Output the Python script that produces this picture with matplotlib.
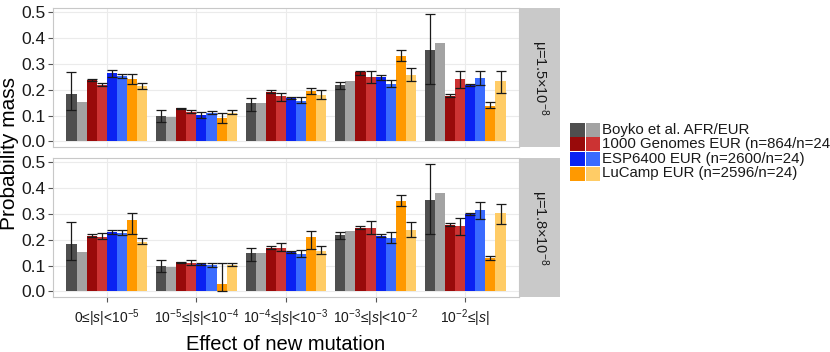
import numpy as np
import matplotlib.pyplot as plt
from matplotlib.patches import Rectangle

plt.rcParams['font.family'] = ['Liberation Sans', 'DejaVu Sans']
plt.rcParams['mathtext.fontset'] = 'custom'
plt.rcParams['mathtext.rm'] = 'Liberation Sans'
plt.rcParams['mathtext.it'] = 'Liberation Sans:italic'

# categories (effect of new mutation)
categories = [r"0≤|$s$|<10$^{-5}$", r"10$^{-5}$≤|$s$|<10$^{-4}$", r"10$^{-4}$≤|$s$|<10$^{-3}$",
              r"10$^{-3}$≤|$s$|<10$^{-2}$", r"10$^{-2}$≤|$s$|"]
panels = [r"μ=1.5×10$^{-8}$", r"μ=1.8×10$^{-8}$"]
legend_labels = ["Boyko et al. AFR/EUR", "1000 Genomes EUR (n=864/n=24)",
                 "ESP6400 EUR (n=2600/n=24)", "LuCamp EUR (n=2596/n=24)"]
# 8 bars per group: (dark, light) pairs per dataset
colors = ["#4f4f4f", "#a3a3a3", "#990a0a", "#cc3333", "#0a22f2", "#3a6bff", "#ff9900", "#ffcc66"]

nan = np.nan
# rows = bar series, columns = categories
mu15_height = [[0.183, 0.097, 0.147, 0.219, 0.354],
               [0.152, 0.094, 0.148, 0.233, 0.380],
               [0.238, 0.129, 0.191, 0.267, 0.177],
               [0.219, 0.115, 0.174, 0.249, 0.240],
               [0.264, 0.103, 0.168, 0.249, 0.218],
               [0.254, 0.111, 0.158, 0.224, 0.247],
               [0.241, 0.091, 0.196, 0.331, 0.138],
               [0.214, 0.110, 0.178, 0.258, 0.233]]
mu15_low = [[0.122, 0.075, 0.119, 0.202, 0.222],
            [nan, nan, nan, nan, nan],
            [0.233, 0.126, 0.186, 0.259, 0.171],
            [0.215, 0.110, 0.158, 0.226, 0.205],
            [0.251, 0.090, 0.164, 0.238, 0.213],
            [0.245, 0.106, 0.148, 0.210, 0.220],
            [0.223, 0.071, 0.184, 0.311, 0.130],
            [0.202, 0.106, 0.164, 0.233, 0.189]]
mu15_high = [[0.268, 0.122, 0.168, 0.231, 0.492],
             [nan, nan, nan, nan, nan],
             [0.243, 0.131, 0.198, 0.273, 0.183],
             [0.228, 0.122, 0.189, 0.273, 0.272],
             [0.278, 0.115, 0.172, 0.259, 0.222],
             [0.263, 0.119, 0.171, 0.238, 0.274],
             [0.260, 0.110, 0.205, 0.353, 0.153],
             [0.228, 0.122, 0.200, 0.285, 0.271]]

mu18_height = [[0.183, 0.097, 0.147, 0.219, 0.354],
               [0.152, 0.094, 0.148, 0.233, 0.380],
               [0.215, 0.112, 0.169, 0.247, 0.258],
               [0.210, 0.110, 0.168, 0.244, 0.253],
               [0.229, 0.106, 0.152, 0.216, 0.299],
               [0.228, 0.101, 0.144, 0.206, 0.314],
               [0.278, 0.028, 0.210, 0.352, 0.128],
               [0.193, 0.102, 0.158, 0.238, 0.303]]
mu18_low = [[0.122, 0.075, 0.119, 0.202, 0.222],
            [nan, nan, nan, nan, nan],
            [0.210, 0.110, 0.164, 0.241, 0.253],
            [0.202, 0.103, 0.158, 0.223, 0.220],
            [0.223, 0.103, 0.150, 0.211, 0.295],
            [0.218, 0.094, 0.135, 0.187, 0.280],
            [0.222, 0.000, 0.166, 0.329, 0.120],
            [0.183, 0.097, 0.144, 0.210, 0.262]]
mu18_high = [[0.268, 0.122, 0.168, 0.231, 0.492],
             [nan, nan, nan, nan, nan],
             [0.223, 0.115, 0.174, 0.253, 0.264],
             [0.226, 0.120, 0.186, 0.271, 0.286],
             [0.236, 0.108, 0.155, 0.222, 0.303],
             [0.238, 0.108, 0.161, 0.231, 0.345],
             [0.304, 0.111, 0.235, 0.375, 0.138],
             [0.205, 0.111, 0.177, 0.268, 0.339]]

W, H = 830, 352
fig = plt.figure(figsize=(W / 100, H / 100), dpi=100)


def fx(px):
    return px / W


def fy(py):
    return 1 - py / H


panel_boxes = [(8, 147), (158, 297)]
data = [(mu15_height, mu15_low, mu15_high), (mu18_height, mu18_low, mu18_high)]
x = np.arange(1, len(categories) + 1)
bw = 0.9 / 8

for i, ((top, bot), (hgt, low, high)) in enumerate(zip(panel_boxes, data)):
    ax = fig.add_axes([fx(53), fy(bot), fx(519) - fx(53), (bot - top) / H])
    for j in range(8):
        xs = x - 0.45 + bw * (j + 0.5)
        h = np.array(hgt[j])
        lo = np.array(low[j])
        hi = np.array(high[j])
        ax.bar(xs, h, width=bw, color=colors[j], linewidth=0, zorder=2)
        if not np.all(np.isnan(lo)):
            mid = (lo + hi) / 2
            ax.errorbar(xs, mid, yerr=(hi - lo) / 2, fmt='none', ecolor='#1a1a1a',
                        elinewidth=0.9, capsize=3.4, capthick=0.9, zorder=3)
    ax.set_xlim(0.4, 5.6)
    ax.set_ylim(-0.022, 0.517)
    ax.set_yticks([0.0, 0.1, 0.2, 0.3, 0.4, 0.5])
    ax.set_yticklabels([f"{v:.1f}" for v in [0.0, 0.1, 0.2, 0.3, 0.4, 0.5]], fontsize=12.5, color='#1a1a1a')
    ax.set_xticks(x)
    ax.grid(True, color='#ebebeb', linewidth=0.8, zorder=0)
    ax.set_axisbelow(True)
    for s in ax.spines.values():
        s.set_color('#c8c8c8')
        s.set_linewidth(0.8)
    ax.tick_params(axis='both', length=3.5, color='#555555', width=0.8, pad=2)
    if i == 0:
        ax.tick_params(axis='x', length=0)
        ax.set_xticklabels([])
    else:
        ax.set_xticklabels(categories, fontsize=10, color='#1a1a1a')
        ax.tick_params(axis='x', pad=4)
        ax.set_xlabel("Effect of new mutation", fontsize=14.5, labelpad=4)

    # facet strip on the right
    fig.add_artist(Rectangle((fx(520), fy(bot)), fx(560) - fx(520), (bot - top) / H,
                             transform=fig.transFigure, facecolor='#c9c9c9', edgecolor='none'))
    fig.text(fx(540), fy((top + bot) / 2), panels[i], rotation=-90, ha='center', va='center',
             fontsize=10.5, color='#1a1a1a')

fig.text(fx(10), fy(154), "Probability mass", rotation=90, ha='center', va='center', fontsize=15)

# legend
for k, label in enumerate(legend_labels):
    y0 = 122.7 + k * 14.6
    for m in range(2):
        fig.add_artist(Rectangle((fx(570 + m * 15.5), fy(y0 + 14)), fx(14.5), 14 / H,
                                 transform=fig.transFigure, facecolor=colors[2 * k + m],
                                 edgecolor='none'))
    fig.text(fx(602), fy(y0 + 7), label, ha='left', va='center', fontsize=10.8, color='#1a1a1a')

fig.savefig("out.png", dpi=100)
